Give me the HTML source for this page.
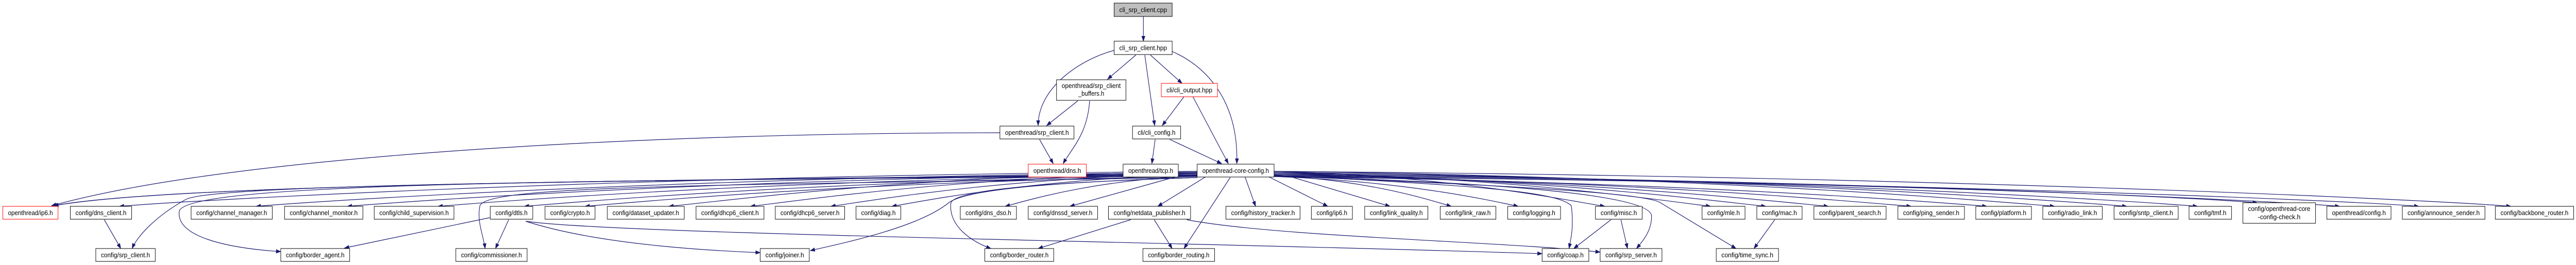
<!DOCTYPE html>
<html><head><meta charset="utf-8"><style>
html,body{margin:0;padding:0;background:#fff;width:100%;height:515px;overflow:hidden;}
svg{display:block;overflow:hidden;width:100vw;height:515px;}
text{font-family:"Liberation Sans",Arial,sans-serif;font-size:13px;fill:#000;text-anchor:middle;}
.n{fill:#fff;stroke:#000;stroke-width:1;}
.r{fill:#fff;stroke:#ff0000;stroke-width:1;}
.g{fill:#bfbfbf;stroke:#000;stroke-width:1;}
.e{fill:none;stroke:#191970;stroke-width:1.2;}
</style></head><body>
<svg id="s" viewBox="0 0 5459 515" preserveAspectRatio="none" xmlns="http://www.w3.org/2000/svg">
<defs><marker id="a" markerWidth="11" markerHeight="8" refX="10" refY="4" orient="auto" markerUnits="userSpaceOnUse"><path d="M0,0 L11,4 L0,8 z" fill="#191970"/></marker></defs>
<g id="edges">
<path class="e" marker-end="url(#a)" d="M2423,32 L2423,80"/>
<path class="e" marker-end="url(#a)" d="M2407,107 L2347,154"/>
<path class="e" marker-end="url(#a)" d="M2426,107 L2447,244"/>
<path class="e" marker-end="url(#a)" d="M2438,107 L2505,162"/>
<path class="e" marker-end="url(#a)" d="M2484,100 C2560,130 2625,200 2621,318"/>
<path class="e" marker-end="url(#a)" d="M2361,98 C2290,115 2200,170 2200,244"/>
<path class="e" marker-end="url(#a)" d="M2284,196 L2218,244"/>
<path class="e" marker-end="url(#a)" d="M2309,196 C2305,260 2270,290 2253,318"/>
<path class="e" marker-end="url(#a)" d="M2203,271 L2232,318"/>
<path class="e" marker-end="url(#a)" d="M2509,188 L2463,244"/>
<path class="e" marker-end="url(#a)" d="M2528,188 L2603,318"/>
<path class="e" marker-end="url(#a)" d="M2448,271 L2441,318"/>
<path class="e" marker-end="url(#a)" d="M2479,271 L2589,318"/>
<path class="e" marker-end="url(#a)" d="M2119,258 C1400,258 500,300 109,400"/>
<path class="e" marker-end="url(#a)" d="M2380,340 C1800,350 400,350 112,400"/>
<path class="e" marker-end="url(#a)" d="M2537,336 C1800,350 400,350 114,400"/>
<path class="e" marker-end="url(#a)" d="M2537,340 C1500,350 450,355 393,388 C330,420 290,460 280,483"/>
<path class="e" marker-end="url(#a)" d="M2537,342 C1200,350 400,355 380,410 C372,460 480,482 595,489"/>
<path class="e" marker-end="url(#a)" d="M2537,345 C1500,360 1030,360 1017,400 C1010,430 1025,460 1028,483"/>
<path class="e" marker-end="url(#a)" d="M2537,345 C2200,355 2050,370 2012,393 C1950,440 1800,470 1717,487"/>
<path class="e" marker-end="url(#a)" d="M2537,345 C2200,355 2020,370 2015,395 C2010,440 2060,470 2100,483"/>
<path class="e" marker-end="url(#a)" d="M2607,345 L2509,483"/>
<path class="e" marker-end="url(#a)" d="M2700,340 C3100,360 3300,370 3330,400 C3335,440 3330,460 3325,483"/>
<path class="e" marker-end="url(#a)" d="M2700,342 C3200,355 3500,380 3500,420 C3500,450 3480,470 3468,483"/>
<path class="e" marker-end="url(#a)" d="M2700,342 C3200,360 3480,375 3517,393 L3679,483"/>
<path class="e" marker-end="url(#a)" d="M1038,423 L730,482"/>
<path class="e" marker-end="url(#a)" d="M1078,427 L1050,483"/>
<path class="e" marker-end="url(#a)" d="M1114,430 C1250,470 1450,485 1611,491"/>
<path class="e" marker-end="url(#a)" d="M1115,430 C1300,455 2500,470 3268,493"/>
<path class="e" marker-end="url(#a)" d="M221,427 L256,483"/>
<path class="e" marker-end="url(#a)" d="M2396,427 L2200,483"/>
<path class="e" marker-end="url(#a)" d="M2446,427 L2484,483"/>
<path class="e" marker-end="url(#a)" d="M2515,427 C2700,460 3200,470 3391,490"/>
<path class="e" marker-end="url(#a)" d="M3414,427 L3335,483"/>
<path class="e" marker-end="url(#a)" d="M3435,427 L3449,483"/>
<path class="e" marker-end="url(#a)" d="M3761,427 L3717,483"/>
</g>
<g>
<rect class="g" x="2361" y="6" width="123" height="26"/><text x="2422.5" y="23.5" textLength="101" lengthAdjust="spacingAndGlyphs">cli_srp_client.cpp</text>
<rect class="n" x="2361" y="80" width="123" height="26"/><text x="2422.5" y="97.5" textLength="101" lengthAdjust="spacingAndGlyphs">cli_srp_client.hpp</text>
<rect class="n" x="2239" y="155" width="147" height="40"/><text x="2312.5" y="171" textLength="125" lengthAdjust="spacingAndGlyphs">openthread/srp_client</text><text x="2312.5" y="186" textLength="55" lengthAdjust="spacingAndGlyphs">_buffers.h</text>
<rect class="r" x="2461" y="162" width="119" height="26"/><text x="2520.5" y="179.5" textLength="97" lengthAdjust="spacingAndGlyphs">cli/cli_output.hpp</text>
<rect class="n" x="2119" y="245" width="157" height="25"/><text x="2197.5" y="262" textLength="135" lengthAdjust="spacingAndGlyphs">openthread/srp_client.h</text>
<rect class="n" x="2400" y="245" width="102" height="25"/><text x="2451" y="262" textLength="80" lengthAdjust="spacingAndGlyphs">cli/cli_config.h</text>
<rect class="r" x="2179" y="319" width="123" height="25"/><text x="2240.5" y="336" textLength="101" lengthAdjust="spacingAndGlyphs">openthread/dns.h</text>
<rect class="n" x="2380" y="319" width="117" height="25"/><text x="2438.5" y="336" textLength="95" lengthAdjust="spacingAndGlyphs">openthread/tcp.h</text>
<rect class="n" x="2537" y="319" width="163" height="25"/><text x="2618.5" y="336" textLength="141" lengthAdjust="spacingAndGlyphs">openthread-core-config.h</text>

<rect class="r" x="6" y="401" width="117" height="25"/><text x="64.5" y="418" textLength="95" lengthAdjust="spacingAndGlyphs">openthread/ip6.h</text>
<rect class="n" x="149" y="401" width="130" height="25"/><text x="214" y="418" textLength="108" lengthAdjust="spacingAndGlyphs">config/dns_client.h</text>
<rect class="n" x="405" y="401" width="172" height="25"/><text x="491" y="418" textLength="150" lengthAdjust="spacingAndGlyphs">config/channel_manager.h</text>
<rect class="n" x="603" y="401" width="166" height="25"/><text x="686" y="418" textLength="144" lengthAdjust="spacingAndGlyphs">config/channel_monitor.h</text>
<rect class="n" x="793" y="401" width="169" height="25"/><text x="877.5" y="418" textLength="147" lengthAdjust="spacingAndGlyphs">config/child_supervision.h</text>
<rect class="n" x="1039" y="401" width="90" height="25"/><text x="1084" y="418" textLength="68" lengthAdjust="spacingAndGlyphs">config/dtls.h</text>
<rect class="n" x="1155" y="401" width="106" height="25"/><text x="1208" y="418" textLength="84" lengthAdjust="spacingAndGlyphs">config/crypto.h</text>
<rect class="n" x="1287" y="401" width="163" height="25"/><text x="1368.5" y="418" textLength="141" lengthAdjust="spacingAndGlyphs">config/dataset_updater.h</text>
<rect class="n" x="1475" y="401" width="144" height="25"/><text x="1547" y="418" textLength="122" lengthAdjust="spacingAndGlyphs">config/dhcp6_client.h</text>
<rect class="n" x="1643" y="401" width="147" height="25"/><text x="1716.5" y="418" textLength="125" lengthAdjust="spacingAndGlyphs">config/dhcp6_server.h</text>
<rect class="n" x="1814" y="401" width="95" height="25"/><text x="1861.5" y="418" textLength="73" lengthAdjust="spacingAndGlyphs">config/diag.h</text>
<rect class="n" x="2035" y="401" width="119" height="25"/><text x="2094.5" y="418" textLength="97" lengthAdjust="spacingAndGlyphs">config/dns_dso.h</text>
<rect class="n" x="2179" y="401" width="147" height="25"/><text x="2252.5" y="418" textLength="125" lengthAdjust="spacingAndGlyphs">config/dnssd_server.h</text>
<rect class="n" x="2349" y="401" width="174" height="25"/><text x="2436" y="418" textLength="152" lengthAdjust="spacingAndGlyphs">config/netdata_publisher.h</text>
<rect class="n" x="2598" y="401" width="157" height="25"/><text x="2676.5" y="418" textLength="135" lengthAdjust="spacingAndGlyphs">config/history_tracker.h</text>
<rect class="n" x="2779" y="401" width="87" height="25"/><text x="2822.5" y="418" textLength="65" lengthAdjust="spacingAndGlyphs">config/ip6.h</text>
<rect class="n" x="2892" y="401" width="134" height="25"/><text x="2959" y="418" textLength="112" lengthAdjust="spacingAndGlyphs">config/link_quality.h</text>
<rect class="n" x="3052" y="401" width="118" height="25"/><text x="3111" y="418" textLength="96" lengthAdjust="spacingAndGlyphs">config/link_raw.h</text>
<rect class="n" x="3195" y="401" width="112" height="25"/><text x="3251" y="418" textLength="90" lengthAdjust="spacingAndGlyphs">config/logging.h</text>
<rect class="n" x="3381" y="401" width="99" height="25"/><text x="3430.5" y="418" textLength="77" lengthAdjust="spacingAndGlyphs">config/misc.h</text>
<rect class="n" x="3607" y="401" width="91" height="25"/><text x="3652.5" y="418" textLength="69" lengthAdjust="spacingAndGlyphs">config/mle.h</text>
<rect class="n" x="3723" y="401" width="96" height="25"/><text x="3771" y="418" textLength="74" lengthAdjust="spacingAndGlyphs">config/mac.h</text>
<rect class="n" x="3844" y="401" width="153" height="25"/><text x="3920.5" y="418" textLength="131" lengthAdjust="spacingAndGlyphs">config/parent_search.h</text>
<rect class="n" x="4022" y="401" width="141" height="25"/><text x="4092.5" y="418" textLength="119" lengthAdjust="spacingAndGlyphs">config/ping_sender.h</text>
<rect class="n" x="4187" y="401" width="118" height="25"/><text x="4246" y="418" textLength="96" lengthAdjust="spacingAndGlyphs">config/platform.h</text>
<rect class="n" x="4329" y="401" width="126" height="25"/><text x="4392" y="418" textLength="104" lengthAdjust="spacingAndGlyphs">config/radio_link.h</text>
<rect class="n" x="4480" y="401" width="136" height="25"/><text x="4548" y="418" textLength="114" lengthAdjust="spacingAndGlyphs">config/sntp_client.h</text>
<rect class="n" x="4639" y="401" width="90" height="25"/><text x="4684" y="418" textLength="68" lengthAdjust="spacingAndGlyphs">config/tmf.h</text>
<rect class="n" x="4753" y="394" width="154" height="40"/><text x="4830" y="410" textLength="132" lengthAdjust="spacingAndGlyphs">config/openthread-core</text><text x="4830" y="426" textLength="90" lengthAdjust="spacingAndGlyphs">-config-check.h</text>
<rect class="n" x="4931" y="401" width="136" height="25"/><text x="4999" y="418" textLength="114" lengthAdjust="spacingAndGlyphs">openthread/config.h</text>
<rect class="n" x="5091" y="401" width="175" height="25"/><text x="5178.5" y="418" textLength="153" lengthAdjust="spacingAndGlyphs">config/announce_sender.h</text>
<rect class="n" x="5288" y="401" width="166" height="25"/><text x="5371" y="418" textLength="144" lengthAdjust="spacingAndGlyphs">config/backbone_router.h</text>

<rect class="n" x="203" y="483" width="126" height="25"/><text x="266" y="500" textLength="104" lengthAdjust="spacingAndGlyphs">config/srp_client.h</text>
<rect class="n" x="595" y="483" width="146" height="25"/><text x="668" y="500" textLength="124" lengthAdjust="spacingAndGlyphs">config/border_agent.h</text>
<rect class="n" x="966" y="483" width="151" height="25"/><text x="1041.5" y="500" textLength="129" lengthAdjust="spacingAndGlyphs">config/commissioner.h</text>
<rect class="n" x="1611" y="483" width="104" height="25"/><text x="1663" y="500" textLength="82" lengthAdjust="spacingAndGlyphs">config/joiner.h</text>
<rect class="n" x="2087" y="483" width="146" height="25"/><text x="2160" y="500" textLength="124" lengthAdjust="spacingAndGlyphs">config/border_router.h</text>
<rect class="n" x="2422" y="483" width="152" height="25"/><text x="2498" y="500" textLength="130" lengthAdjust="spacingAndGlyphs">config/border_routing.h</text>
<rect class="n" x="3268" y="483" width="99" height="25"/><text x="3317.5" y="500" textLength="77" lengthAdjust="spacingAndGlyphs">config/coap.h</text>
<rect class="n" x="3391" y="483" width="131" height="25"/><text x="3456.5" y="500" textLength="109" lengthAdjust="spacingAndGlyphs">config/srp_server.h</text>
<rect class="n" x="3637" y="483" width="132" height="25"/><text x="3703" y="500" textLength="110" lengthAdjust="spacingAndGlyphs">config/time_sync.h</text>
</g>
</svg>
<script>
(function(){
var T=[[149,279],[405,577],[603,769],[793,962],[1039,1129],[1155,1261],[1287,1450],[1475,1619],[1643,1790],[1814,1909],[2035,2154],[2179,2326],[2349,2523],[2598,2755],[2779,2866],[2892,3026],[3052,3170],[3195,3307],[3381,3480],[3607,3698],[3723,3819],[3844,3997],[4022,4163],[4187,4305],[4329,4455],[4480,4616],[4639,4729],[4753,4907],[4931,5067],[5091,5266],[5288,5454]];
var g=document.getElementById('edges'),ns='http://www.w3.org/2000/svg',C=2618;
T.forEach(function(t,i){
 var cx=(t[0]+t[1])/2,hw=(t[1]-t[0])/2,top=(t[0]==4753)?394:401,d;
 var dx=cx-C,sg=dx<0?-1:1;
 if(Math.abs(dx)<420){
  var sx=C+dx*0.35;
  d='M'+sx.toFixed(1)+',344 L'+(cx-sg*0.2*hw).toFixed(1)+','+top;
 } else {
  var sx=sg<0?2537:2700,sy=333+(i%6)*2;
  var ex=cx-sg*0.6*hw;
  var c1x=sx+(ex-sx)*0.55,c2x=ex-sg*Math.min(160,Math.abs(ex-sx)*0.12);
  d='M'+sx+','+sy+' C'+c1x.toFixed(1)+','+(sy+10)+' '+c2x.toFixed(1)+','+(top-12)+' '+ex.toFixed(1)+','+top;
 }
 var p=document.createElementNS(ns,'path');p.setAttribute('class','e');p.setAttribute('marker-end','url(#a)');p.setAttribute('d',d);g.appendChild(p);
});
})();
</script>
</body></html>
